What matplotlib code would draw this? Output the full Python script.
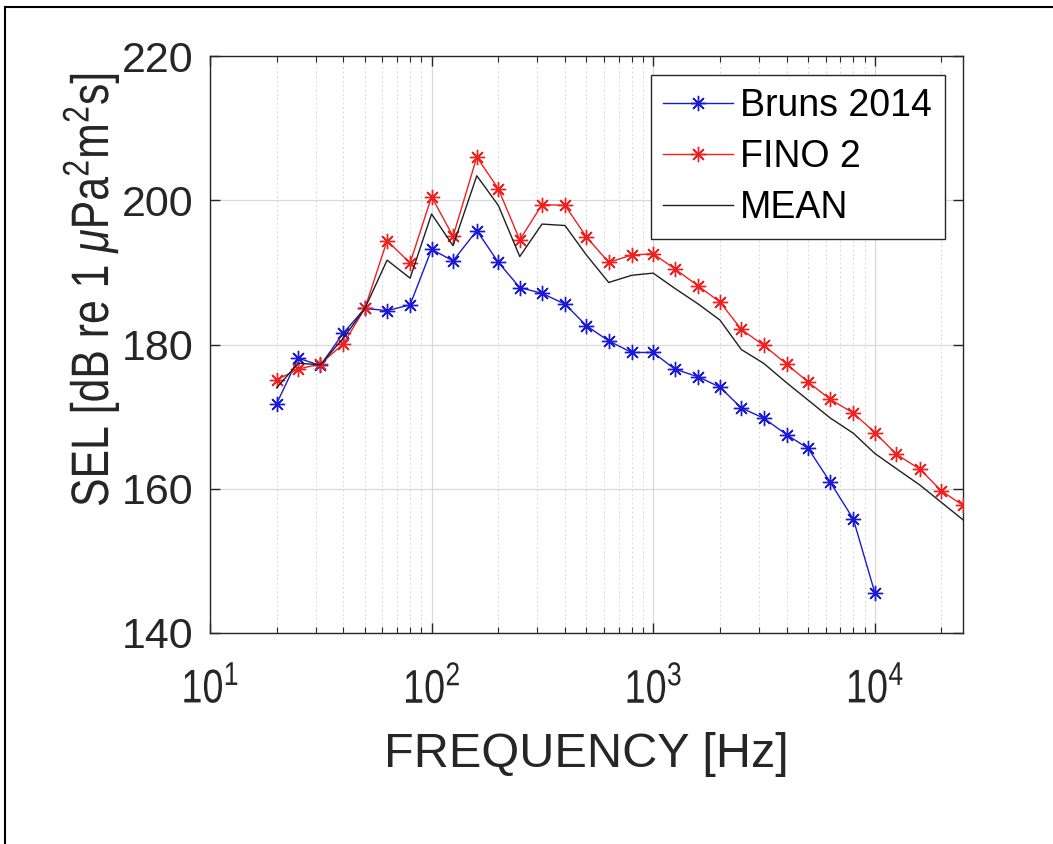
import numpy as np
import matplotlib
matplotlib.use("Agg")
import matplotlib.pyplot as plt
from matplotlib.ticker import LogLocator, NullFormatter
from matplotlib.lines import Line2D
from matplotlib.patheffects import AbstractPathEffect
from matplotlib.transforms import Affine2D

plt.rcParams['font.family'] = ['Liberation Sans', 'DejaVu Sans']
plt.rcParams['mathtext.fontset'] = 'custom'
plt.rcParams['mathtext.rm'] = 'Liberation Sans'
plt.rcParams['mathtext.it'] = 'Liberation Sans:italic'
plt.rcParams['mathtext.bf'] = 'Liberation Sans:bold'

# 1/3-octave band centre frequencies [Hz]
freq_bruns = [20, 25, 31.5, 40, 50, 63, 80, 100, 125, 160, 200, 250, 315, 400,
              500, 630, 800, 1000, 1250, 1600, 2000, 2500, 3150, 4000, 5000,
              6300, 8000, 10000]
freq_fino = freq_bruns + [12500, 16000, 20000, 25000]
freq_mean = freq_fino

sel_bruns = [171.8, 178.1, 177.1, 181.6, 185.0, 184.7, 185.5, 193.2, 191.6, 195.8,
             191.4, 187.9, 187.1, 185.6, 182.6, 180.5, 178.9, 178.9, 176.6, 175.5,
             174.1, 171.2, 169.8, 167.5, 165.6, 160.9, 155.8, 145.6]
sel_fino = [175.1, 176.6, 177.3, 180.1, 185.0, 194.4, 191.3, 200.5, 195.0, 206.0,
            201.6, 194.5, 199.4, 199.3, 194.9, 191.4, 192.4, 192.6, 190.5, 188.1,
            185.9, 182.1, 179.9, 177.3, 174.8, 172.4, 170.5, 167.8, 164.8, 162.7,
            159.7, 157.7]
sel_mean = [174.0, 177.4, 177.2, 180.9, 185.0, 191.7, 189.2, 198.1, 193.7, 203.4,
            199.3, 192.2, 196.7, 196.5, 192.4, 188.6, 189.6, 189.9, 187.8, 185.6,
            183.4, 179.3, 177.4, 174.7, 172.3, 169.8, 167.7, 164.9, 162.8, 160.5,
            158.1, 155.7]

labels = ['Bruns 2014', 'FINO 2', 'MEAN']
yticks = [140, 160, 180, 200, 220]


class Condense(AbstractPathEffect):
    """Narrow the glyphs along the text direction (mimics a condensed face)."""
    def __init__(self, sx):
        super().__init__()
        self.sx = sx

    def draw_path(self, renderer, gc, tpath, affine, rgbFace=None):
        ext = tpath.get_extents()
        cx = 0.5 * (ext.x0 + ext.x1)
        t = Affine2D().translate(-cx, 0).scale(self.sx, 1).translate(cx, 0) + affine
        renderer.draw_path(gc, tpath, t, rgbFace)


TXT = '#262626'
fig = plt.figure(figsize=(10.53, 8.44), dpi=100)
ax = fig.add_axes([0.1994, 0.25, 0.7151, 0.6836])

ast = (8, 2, 0)
ax.plot(freq_bruns, sel_bruns, color='#1a1ad6', lw=1.0, marker=ast, ms=11,
        mew=1.0, label=labels[0], zorder=3)
ax.plot(freq_fino, sel_fino, color='#f02020', lw=1.0, marker=ast, ms=11,
        mew=1.0, label=labels[1], zorder=3)
ax.plot(freq_mean, sel_mean, color='#202020', lw=1.0, label=labels[2], zorder=4)

ax.set_xscale('log')
ax.set_xlim(10, 25000)
ax.set_ylim(140, 220)
ax.set_yticks(yticks)
ax.xaxis.set_major_locator(LogLocator(base=10, numticks=10))
ax.xaxis.set_minor_locator(LogLocator(base=10, subs=np.arange(2, 10), numticks=50))
ax.xaxis.set_minor_formatter(NullFormatter())

ax.grid(True, which='major', color='#d9d9d9', lw=0.9, ls='-')
ax.grid(True, which='minor', axis='x', color='#d6d6d6', lw=0.8, ls=(0, (1.5, 2.5)))
ax.set_axisbelow(True)

ax.tick_params(which='both', direction='in', top=True, right=True,
               colors=TXT, labelcolor=TXT)
ax.tick_params(which='major', length=7, width=1.0)
ax.tick_params(which='minor', length=4, width=0.8)
ax.tick_params(axis='y', labelsize=31, pad=12)
ax.tick_params(axis='x', labelsize=34, pad=25)
for s in ax.spines.values():
    s.set_color(TXT)
    s.set_linewidth(1.0)

fig.canvas.draw()
for lab in ax.get_xticklabels():
    lab.set_path_effects([Condense(0.8)])

ax.set_xlabel('FREQUENCY [Hz]', fontsize=35, color=TXT, labelpad=14)
yl = ax.set_ylabel(r'SEL [dB re 1 $\mu$Pa$^2$m$^2$s]', fontsize=38, color=TXT)
yl.set_path_effects([Condense(0.81)])
ax.yaxis.set_label_coords(-0.118, 0.594)

leg = ax.legend(loc='upper right', bbox_to_anchor=(0.976, 0.967),
                borderaxespad=0, fontsize=27, fancybox=False, framealpha=1,
                edgecolor=TXT, handlelength=1.85, handletextpad=0.2,
                labelspacing=0.4, borderpad=0.34, numpoints=1)
leg.get_frame().set_linewidth(1.0)

# outer frame lines (left and top) of the exported picture
fig.add_artist(Line2D([5/1053, 5/1053], [0, 1 - 7/844], color='black', lw=1.5,
                      transform=fig.transFigure))
fig.add_artist(Line2D([5/1053, 1], [1 - 7/844, 1 - 7/844], color='black', lw=1.5,
                      transform=fig.transFigure))

fig.savefig('out.png', dpi=100, facecolor='white')
